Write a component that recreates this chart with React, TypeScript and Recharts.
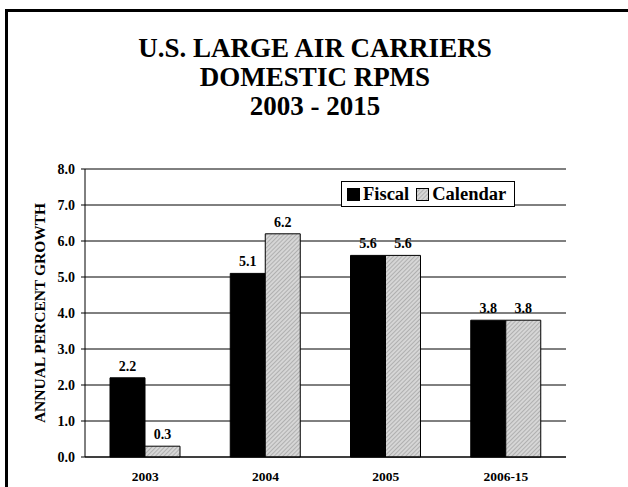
import React from 'react'
import { BarChart, Bar, XAxis, YAxis, CartesianGrid, LabelList } from 'recharts'

// growth in percent
const periods = ['2003', '2004', '2005', '2006-15']
const fiscal = [2.2, 5.1, 5.6, 3.8]
const calendar = [0.3, 6.2, 5.6, 3.8]
const yTicks = [0, 1, 2, 3, 4, 5, 6, 7, 8]
const titleLines = ['U.S. LARGE AIR CARRIERS', 'DOMESTIC RPMS', '2003 - 2015']

const data = periods.map((p, i) => ({ period: p, fiscal: fiscal[i], calendar: calendar[i] }))

const FONT = "'Liberation Serif', 'Times New Roman', serif"

function Hatch({ id }: { id: string }) {
  return (
    <pattern id={id} patternUnits="userSpaceOnUse" width="3" height="3" patternTransform="rotate(45)">
      <rect width="3" height="3" fill="#d6d6d6" />
      <line x1="0" y1="0" x2="0" y2="3" stroke="#8a8a8a" strokeWidth="1" />
    </pattern>
  )
}

function LegendBox() {
  const item = { display: 'flex', alignItems: 'center' } as const
  return (
    <div
      style={{
        position: 'absolute',
        left: 341,
        top: 181,
        width: 174,
        height: 26,
        boxSizing: 'border-box',
        border: '1px solid #000',
        background: '#fff',
        display: 'flex',
        alignItems: 'center',
        padding: '0 5px',
        fontFamily: FONT,
        fontWeight: 'bold',
        fontSize: 18.5,
        color: '#000',
      }}
    >
      <div style={item}>
        <svg width={13} height={13} style={{ marginRight: 3 }}>
          <rect x={0.5} y={0.5} width={12} height={12} fill="#000" stroke="#000" />
        </svg>
        Fiscal
      </div>
      <div style={{ ...item, marginLeft: 7 }}>
        <svg width={13} height={13} style={{ marginRight: 3 }}>
          <defs>
            <Hatch id="hatchLegend" />
          </defs>
          <rect x={0.5} y={0.5} width={12} height={12} fill="url(#hatchLegend)" stroke="#000" />
        </svg>
        Calendar
      </div>
    </div>
  )
}

const smallText = { fill: '#000', fontFamily: FONT, fontWeight: 'bold', fontSize: 14 }

export default function App() {
  return (
    <div
      style={{
        position: 'absolute',
        left: 0,
        top: 0,
        width: 628,
        height: 487,
        overflow: 'hidden',
        background: '#fff',
      }}
    >
      <div
        style={{
          position: 'absolute',
          left: 0,
          top: 34,
          width: 630,
          textAlign: 'center',
          fontFamily: FONT,
          fontWeight: 'bold',
          fontSize: 27,
          lineHeight: '29px',
          color: '#000',
        }}
      >
        {titleLines.map((t) => (
          <div key={t}>{t}</div>
        ))}
      </div>
      <div style={{ position: 'absolute', left: 0, top: 0 }}>
        <BarChart
          width={628}
          height={487}
          data={data}
          margin={{ top: 169, right: 62, left: 0, bottom: 0 }}
          barCategoryGap={25}
          barGap={0}
        >
          <defs>
            <Hatch id="hatch" />
          </defs>
          <CartesianGrid vertical={false} stroke="#000" strokeOpacity={1} />
          <XAxis
            dataKey="period"
            height={30}
            tickSize={0}
            tickMargin={14}
            axisLine={{ stroke: '#000' }}
            tick={{ ...smallText, fontSize: 13.5 }}
          />
          <YAxis
            width={85}
            domain={[0, 8]}
            ticks={yTicks}
            interval={0}
            tickFormatter={(v: number) => v.toFixed(1)}
            tickSize={4}
            tickMargin={6}
            axisLine={{ stroke: '#000' }}
            tickLine={{ stroke: '#000' }}
            tick={smallText}
            label={{
              value: 'ANNUAL PERCENT GROWTH',
              angle: -90,
              position: 'center',
              dx: -3,
              fill: '#000',
              style: { fontFamily: FONT, fontWeight: 'bold', fontSize: 15.5 },
            }}
          />
          <YAxis
            yAxisId="frame"
            orientation="right"
            width={0}
            domain={[0, 8]}
            tick={false}
            tickLine={false}
            axisLine={{ stroke: '#888' }}
          />
          <Bar dataKey="fiscal" name="Fiscal" fill="#000" stroke="#000" isAnimationActive={false}>
            <LabelList
              dataKey="fiscal"
              position="top"
              offset={7}
              formatter={(v: number) => v.toFixed(1)}
              style={smallText}
            />
          </Bar>
          <Bar dataKey="calendar" name="Calendar" fill="url(#hatch)" stroke="#000" isAnimationActive={false}>
            <LabelList
              dataKey="calendar"
              position="top"
              offset={7}
              formatter={(v: number) => v.toFixed(1)}
              style={smallText}
            />
          </Bar>
        </BarChart>
      </div>
      <LegendBox />
      {/* outer frame, only its top and left sides fall inside the picture */}
      <svg
        width={628}
        height={487}
        style={{ position: 'absolute', left: 0, top: 0, pointerEvents: 'none' }}
      >
        <path d="M6.5 487 V10.5 H628" fill="none" stroke="#000" strokeWidth={3} />
      </svg>
    </div>
  )
}
